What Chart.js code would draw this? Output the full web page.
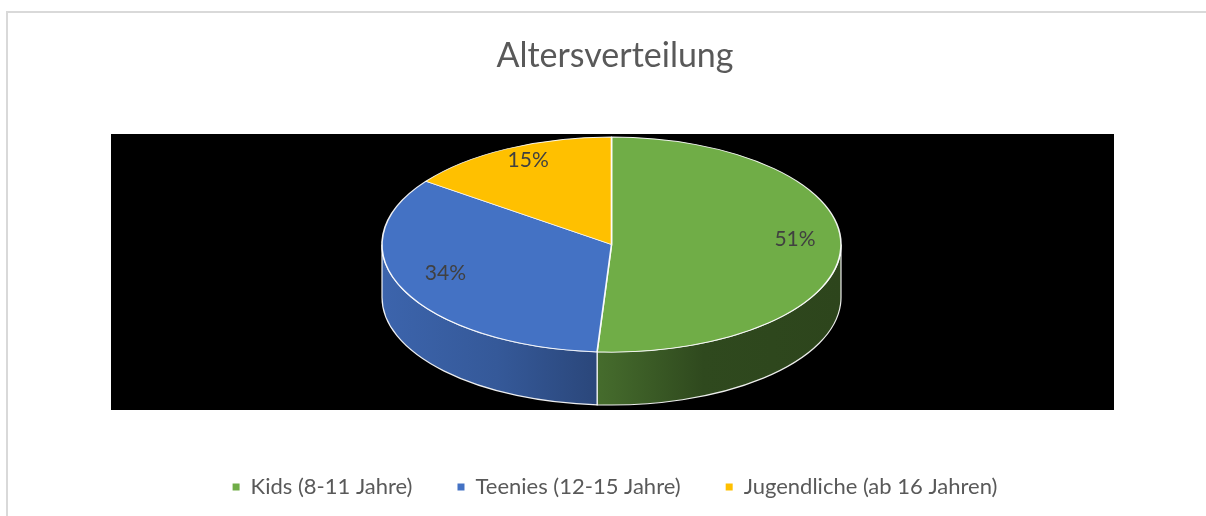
<!DOCTYPE html>
<html>
<head>
<meta charset="utf-8">
<script src="https://cdn.jsdelivr.net/npm/chart.js@4.4.1/dist/chart.umd.min.js"></script>
<style>
  html, body { margin: 0; padding: 0; background: #ffffff; overflow: hidden; }
  canvas { display: block; }
</style>
</head>
<body>
<canvas id="chart" width="1206" height="516"></canvas>
<script>
// ---- data ----
const chartTitle = 'Altersverteilung';
const categories = ['Kids (8-11 Jahre)', 'Teenies (12-15 Jahre)', 'Jugendliche (ab 16 Jahren)'];
const shares = [51, 34, 15];
const percentLabels = ['51%', '34%', '15%'];

// ---- styles / layout ----
const sliceColors = ['#70AD47', '#4472C4', '#FFC000'];
const FONT = 'Lato, "Open Sans", sans-serif';
const EDGE = 'rgba(255,255,255,0.92)';
const VIEW = { cx: 611.5, cy: 244.5, rx: 229.5, ry: 107.5, depth: 53 };
const PLOT = { left: 111, top: 134, right: 1114, bottom: 410 };

function shade(hex, f) {
  const n = parseInt(hex.slice(1), 16);
  const r = Math.round(((n >> 16) & 255) * f);
  const g = Math.round(((n >> 8) & 255) * f);
  const b = Math.round((n & 255) * f);
  return 'rgb(' + r + ',' + g + ',' + b + ')';
}

const view3d = {
  id: 'view3d',
  beforeDraw(chart) {
    const ctx = chart.ctx;
    ctx.save();
    ctx.strokeStyle = '#d9d9d9';
    ctx.lineWidth = 2;
    ctx.strokeRect(7, 12, chart.width + 40, chart.height + 40);
    ctx.restore();
  },
  beforeDatasetsDraw(chart) {
    const ctx = chart.ctx;
    const { cx, cy, rx, ry, depth } = VIEW;
    ctx.save();
    ctx.fillStyle = '#000000';
    ctx.fillRect(PLOT.left, PLOT.top, PLOT.right - PLOT.left, PLOT.bottom - PLOT.top);
    const arcs = chart.getDatasetMeta(0).data;
    arcs.forEach((arc, i) => {
      const p = arc.getProps(['startAngle', 'endAngle'], true);
      for (const off of [-2 * Math.PI, 0, 2 * Math.PI]) {
        const a1 = Math.max(p.startAngle, off);
        const a2 = Math.min(p.endAngle, off + Math.PI);
        if (a2 <= a1) continue;
        const base = sliceColors[i];
        const grad = ctx.createLinearGradient(cx - rx, 0, cx + rx, 0);
        grad.addColorStop(0, shade(base, 0.88));
        grad.addColorStop(0.25, shade(base, 0.78));
        grad.addColorStop(0.5, shade(base, 0.6));
        grad.addColorStop(0.7, shade(base, 0.42));
        grad.addColorStop(1, shade(base, 0.4));
        ctx.beginPath();
        ctx.ellipse(cx, cy, rx, ry, 0, a1, a2, false);
        ctx.ellipse(cx, cy + depth, rx, ry, 0, a2, a1, true);
        ctx.closePath();
        ctx.fillStyle = grad;
        ctx.fill();
        ctx.strokeStyle = EDGE;
        ctx.lineWidth = 1.2;
        ctx.stroke();
      }
    });
    ctx.restore();
    // tilt the library's own pie into the 3D view
    const a0 = arcs[0].getProps(['x', 'y', 'outerRadius'], true);
    ctx.save();
    ctx.translate(cx, cy);
    ctx.scale(rx / a0.outerRadius, ry / a0.outerRadius);
    ctx.translate(-a0.x, -a0.y);
  },
  afterDatasetsDraw(chart) {
    const ctx = chart.ctx;
    ctx.restore();
    const { cx, cy, rx, ry } = VIEW;
    const arcs = chart.getDatasetMeta(0).data;
    ctx.save();
    ctx.font = '21px ' + FONT;
    ctx.fillStyle = '#404040';
    ctx.textAlign = 'center';
    ctx.textBaseline = 'middle';
    arcs.forEach((arc, i) => {
      const p = arc.getProps(['startAngle', 'endAngle'], true);
      const mid = (p.startAngle + p.endAngle) / 2;
      const x = cx + rx * 0.8 * Math.cos(mid);
      const y = cy + ry * 0.8 * Math.sin(mid) - 8;
      ctx.fillText(percentLabels[i], x, y);
    });
    ctx.restore();
  }
};

const baseGen = Chart.controllers.doughnut.overrides.plugins.legend.labels.generateLabels;

new Chart(document.getElementById('chart'), {
  type: 'pie',
  data: {
    labels: categories,
    datasets: [{
      data: shares,
      backgroundColor: sliceColors,
      borderColor: EDGE,
      borderWidth: 1.2,
      clip: false
    }]
  },
  options: {
    responsive: false,
    animation: false,
    events: [],
    devicePixelRatio: 1,
    layout: { padding: { left: 24, right: 0, top: 0, bottom: 8 } },
    plugins: {
      title: {
        display: true,
        text: chartTitle,
        color: '#595959',
        font: { family: FONT, size: 34, weight: 'normal' },
        padding: { top: 36, bottom: 10 }
      },
      legend: {
        position: 'bottom',
        labels: {
          usePointStyle: true,
          pointStyle: 'rect',
          boxWidth: 7,
          boxHeight: 7,
          padding: 45,
          color: '#595959',
          font: { family: FONT, size: 22 },
          generateLabels(chart) {
            return baseGen(chart).map(it => Object.assign(it, { strokeStyle: it.fillStyle, lineWidth: 0 }));
          }
        }
      },
      tooltip: { enabled: false }
    }
  },
  plugins: [view3d]
});
</script>
</body>
</html>
